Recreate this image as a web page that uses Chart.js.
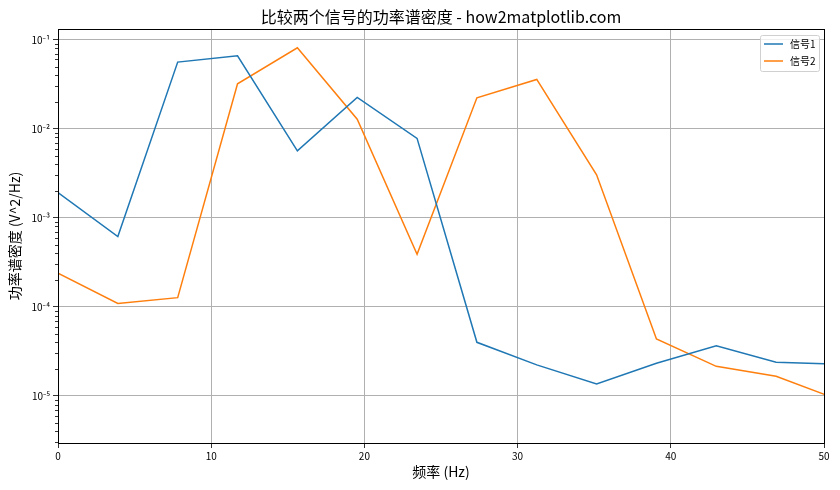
<!DOCTYPE html>
<html>
<head>
<meta charset="utf-8">
<script src="https://cdn.jsdelivr.net/npm/chart.js@4"></script>
<style>
html,body{margin:0;padding:0;background:#fff;}
#wrap{width:840px;height:490px;}
</style>
</head>
<body>
<div id="wrap"><canvas id="c" width="840" height="490"></canvas></div>
<script>
const FONT = '"Noto Sans CJK SC","Noto Sans",sans-serif';
const freqs = [0, 3.906, 7.813, 11.719, 15.625, 19.531, 23.438, 27.344, 31.25, 35.156, 39.063, 42.969, 46.875, 50.781];
const signal1 = [1.92e-3, 6.16e-4, 5.61e-2, 6.6e-2, 5.66e-3, 2.25e-2, 7.8e-3, 4.0e-5, 2.23e-5, 1.36e-5, 2.33e-5, 3.65e-5, 2.39e-5, 2.27e-5];
const signal2 = [2.39e-4, 1.09e-4, 1.27e-4, 3.2e-2, 8.13e-2, 1.28e-2, 3.9e-4, 2.23e-2, 3.58e-2, 3.04e-3, 4.37e-5, 2.15e-5, 1.66e-5, 9.3e-6];
const seriesNames = ['信号1', '信号2'];
const seriesColors = ['#1f77b4', '#ff7f0e'];
const xTicks = [0, 10, 20, 30, 40, 50];
const yMajorTicks = [1e-5, 1e-4, 1e-3, 1e-2, 1e-1];
const yTickLabels = ['10⁻⁵', '10⁻⁴', '10⁻³', '10⁻²', '10⁻¹'];
const titleText = '比较两个信号的功率谱密度 - how2matplotlib.com';
const xLabel = '频率 (Hz)';
const yLabel = '功率谱密度 (V^2/Hz)';
const yMin = 2.96e-6, yMax = 0.132;

const toPts = arr => arr.map((v, i) => ({x: freqs[i], y: v}));

const decor = {
  id: 'decor',
  afterDraw(chart) {
    const {ctx, chartArea: a, scales} = chart;
    ctx.save();
    // minor ticks on y
    ctx.strokeStyle = '#000';
    ctx.lineWidth = 0.8;
    for (let e = -6; e <= -1; e++) {
      for (let m = 2; m <= 9; m++) {
        const v = m * Math.pow(10, e);
        if (v < yMin || v > yMax) continue;
        const py = Math.round(scales.y.getPixelForValue(v)) + 0.5;
        ctx.beginPath();
        ctx.moveTo(a.left, py);
        ctx.lineTo(a.left - 3, py);
        ctx.stroke();
      }
    }
    // frame
    ctx.strokeStyle = '#000';
    ctx.lineWidth = 1;
    ctx.strokeRect(Math.round(a.left) + 0.5, Math.round(a.top) + 0.5, Math.round(a.right - a.left), Math.round(a.bottom - a.top));
    // title
    ctx.fillStyle = '#000';
    ctx.textAlign = 'center';
    ctx.textBaseline = 'middle';
    ctx.font = '16px ' + FONT;
    ctx.fillText(titleText, (a.left + a.right) / 2, 17);
    // x label
    ctx.font = '14px ' + FONT;
    ctx.fillText(xLabel, (a.left + a.right) / 2, 472);
    // y label
    ctx.save();
    ctx.translate(15, (a.top + a.bottom) / 2);
    ctx.rotate(-Math.PI / 2);
    ctx.fillText(yLabel, 0, 0);
    ctx.restore();
    // legend
    const lx = 760, ly = 35, lw = 59, lh = 36;
    ctx.beginPath();
    if (ctx.roundRect) ctx.roundRect(lx + 0.5, ly + 0.5, lw, lh, 2); else ctx.rect(lx + 0.5, ly + 0.5, lw, lh);
    ctx.fillStyle = 'rgba(255,255,255,0.8)';
    ctx.fill();
    ctx.strokeStyle = '#d0d0d0';
    ctx.lineWidth = 1;
    ctx.stroke();
    ctx.font = '10px ' + FONT;
    ctx.textAlign = 'left';
    chart.data.datasets.forEach((ds, i) => {
      const cy = ly + 9 + i * 17;
      ctx.strokeStyle = ds.borderColor;
      ctx.lineWidth = 1.5;
      ctx.beginPath();
      ctx.moveTo(764, cy);
      ctx.lineTo(783, cy);
      ctx.stroke();
      ctx.fillStyle = '#000';
      ctx.fillText(ds.label, 790, cy);
    });
    ctx.restore();
  }
};

new Chart(document.getElementById('c'), {
  type: 'line',
  data: {
    datasets: [
      {label: seriesNames[0], data: toPts(signal1), borderColor: seriesColors[0], borderWidth: 1.5, pointRadius: 0, tension: 0, fill: false, clip: 0},
      {label: seriesNames[1], data: toPts(signal2), borderColor: seriesColors[1], borderWidth: 1.5, pointRadius: 0, tension: 0, fill: false, clip: 0}
    ]
  },
  options: {
    responsive: false,
    animation: false,
    devicePixelRatio: 1,
    layout: {padding: {left: 0, right: 16, top: 29, bottom: 0}},
    plugins: {legend: {display: false}, title: {display: false}, tooltip: {enabled: false}},
    scales: {
      x: {
        type: 'linear', min: 0, max: 50,
        afterFit: s => { s.height = 47; },
        afterBuildTicks: s => { s.ticks = xTicks.map(v => ({value: v})); },
        grid: {color: '#b0b0b0', lineWidth: 1, tickColor: '#000', tickLength: 5, tickWidth: 0.8},
        border: {display: false},
        ticks: {font: {size: 10, family: FONT}, color: '#000', padding: 2, maxRotation: 0, autoSkip: false}
      },
      y: {
        type: 'logarithmic', min: yMin, max: yMax,
        afterFit: s => { s.width = 58; },
        afterBuildTicks: s => { s.ticks = yMajorTicks.map(v => ({value: v})); },
        grid: {color: '#b0b0b0', lineWidth: 1, tickColor: '#000', tickLength: 5, tickWidth: 0.8},
        border: {display: false},
        ticks: {
          font: {size: 10, family: FONT}, color: '#000', padding: 3, autoSkip: false,
          callback: v => { const i = yMajorTicks.findIndex(t => Math.abs(t - v) / t < 1e-6); return i >= 0 ? yTickLabels[i] : ''; }
        }
      }
    }
  },
  plugins: [decor]
});
</script>
</body>
</html>
